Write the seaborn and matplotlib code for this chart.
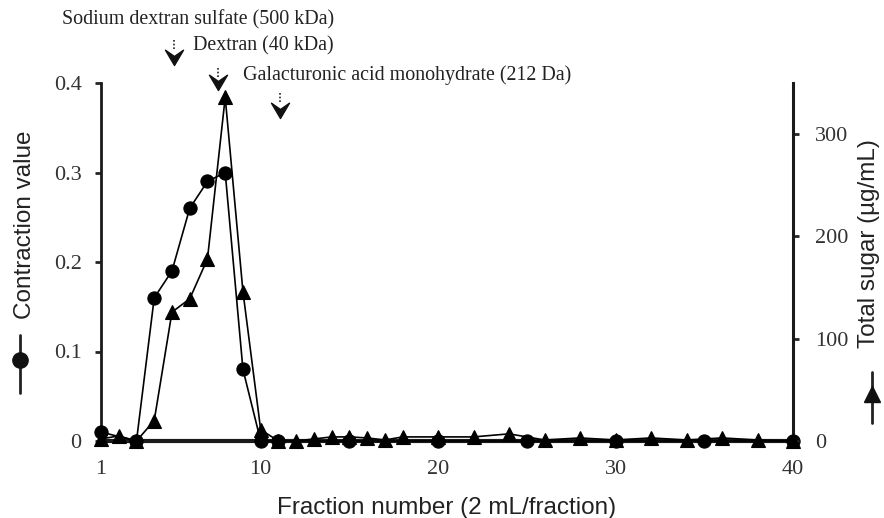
import numpy as np
import pandas as pd
import matplotlib
matplotlib.use("Agg")
import matplotlib.pyplot as plt
import matplotlib.transforms as mtransforms
from matplotlib.path import Path
from matplotlib.lines import Line2D
import seaborn as sns

# ---------------- data ----------------
circ_fraction = [1, 3, 4, 5, 6, 7, 8, 9, 10, 11, 15, 20, 25, 30, 35, 40]
contraction = [0.01, 0.0, 0.16, 0.19, 0.26, 0.29, 0.30, 0.08, 0.0, 0.0, 0.0, 0.0, 0.0, 0.0, 0.0, 0.0]

tri_fraction = [1, 2, 3, 4, 5, 6, 7, 8, 9, 10, 11, 12, 13, 14, 15, 16, 17, 18,
                20, 22, 24, 26, 28, 30, 32, 34, 36, 38, 40]
total_sugar = [2, 5, 0, 20, 126, 139, 178, 336, 146, 11, 0, 0, 2, 4, 4, 3, 1, 4,
               4, 4, 7, 1, 3, 1, 3, 1, 3, 1, 0]

x_ticks = [1, 10, 20, 30, 40]
left_ticks = [0, 0.1, 0.2, 0.3, 0.4]
left_tick_labels = ["0", "0.1", "0.2", "0.3", "0.4"]
right_ticks = [0, 100, 200, 300]

marker_names = ["Sodium dextran sulfate (500 kDa)", "Dextran (40 kDa)",
                "Galacturonic acid monohydrate (212 Da)"]
marker_fractions = [5.1, 7.6, 11.1]

# ---------------- style ----------------
sns.set_theme(style="white")
plt.rcParams["font.family"] = ["Liberation Serif", "DejaVu Serif"]
SANS = ["Liberation Sans", "DejaVu Sans"]
SERIF = ["Liberation Serif", "DejaVu Serif"]

W, H = 884, 518
fig = plt.figure(figsize=(W / 100, H / 100), dpi=100)
fig.patch.set_facecolor("white")
ax = fig.add_axes([101 / W, 1 - 441 / H, (793 - 101) / W, (441 - 83) / H])
ax2 = ax.twinx()

df_c = pd.DataFrame({"fraction": circ_fraction, "value": contraction})
df_t = pd.DataFrame({"fraction": tri_fraction, "value": total_sugar})

sns.lineplot(data=df_c, x="fraction", y="value", ax=ax, color="black",
             marker="o", markersize=9.5, linewidth=1.2, markeredgecolor="black",
             markeredgewidth=0.8, clip_on=False, zorder=5, estimator=None,
             legend=False)
sns.lineplot(data=df_t, x="fraction", y="value", ax=ax2, color="black",
             marker="^", markersize=10, linewidth=1.2, markeredgecolor="black",
             markeredgewidth=0.8, clip_on=False, zorder=5, estimator=None,
             legend=False)

ax.set_xlim(1, 40)
ax.set_ylim(0, 0.4)
ax2.set_ylim(0, 350)
ax.set_ylabel("")
ax2.set_ylabel("")
ax2.set_xlabel("")

ax.set_xticks(x_ticks)
ax.set_xticklabels([str(t) for t in x_ticks])
ax.set_yticks(left_ticks)
ax.set_yticklabels(left_tick_labels)
ax2.set_yticks(right_ticks)
ax2.set_yticklabels([str(t) for t in right_ticks])

for a in (ax, ax2):
    a.grid(False)
    a.set_facecolor("none")
    a.spines["top"].set_visible(False)
    for s in a.spines.values():
        s.set_color("#1a1a1a")

ax.spines["left"].set_linewidth(2.0)
ax.spines["bottom"].set_linewidth(3.0)
ax.spines["right"].set_visible(False)
ax2.spines["left"].set_visible(False)
ax2.spines["bottom"].set_visible(False)
ax2.spines["right"].set_linewidth(2.2)

ax.tick_params(axis="y", direction="out", length=4, width=2, pad=10,
               labelsize=16, labelcolor="#333333", left=True)
ax.tick_params(axis="x", length=0, pad=14, labelsize=16, labelcolor="#333333")
ax2.tick_params(axis="y", direction="out", length=4, width=2, pad=12,
                labelsize=16, labelcolor="#333333", right=True)
for lab in ax.get_xticklabels() + ax.get_yticklabels() + ax2.get_yticklabels():
    lab.set_family(SERIF)

ax.set_xlabel("Fraction number (2 mL/fraction)", fontsize=17.5, family=SANS,
              color="#222222")
ax.xaxis.set_label_coords(0.5, -0.156)


def fy(p):
    return 1 - p / H


# axis titles placed by their centres
fig.text(25 / W, fy(225), "Contraction value", fontsize=17.5, family=SANS,
         color="#222222", rotation=90, ha="center", va="center")
fig.text(869 / W, fy(244), "Total sugar (µg/mL)", fontsize=17.5, family=SANS,
         color="#222222", rotation=90, ha="center", va="center")

# legend keys beside the axis labels (figure pixel coords)
fig.add_artist(Line2D([20 / W, 20 / W], [fy(335), fy(393)], color="#222222", lw=2))
fig.add_artist(Line2D([20 / W], [fy(360)], marker="o", markersize=11,
                      color="#111111", linestyle="none"))
fig.add_artist(Line2D([872 / W, 872 / W], [fy(372), fy(423)], color="#222222", lw=2))
fig.add_artist(Line2D([872 / W], [fy(394)], marker="^", markersize=12,
                      color="#111111", linestyle="none"))

# marker annotations
trans = mtransforms.blended_transform_factory(ax.transData, fig.transFigure)
text_pos = [(62, 20), (193, 46), (243, 75)]
for name, (tx, ty) in zip(marker_names, text_pos):
    fig.text(tx / W, fy(ty), name, fontsize=14.4, family=SERIF, color="#222222",
             ha="left", va="center")

chevron = Path([(0, -1), (-1, 0.7), (0, 0.0), (1, 0.7), (0, -1)],
               [Path.MOVETO, Path.LINETO, Path.LINETO, Path.LINETO, Path.CLOSEPOLY])
arrow_y = [(40, 62), (68, 87), (93, 115)]
for xf, (ytop, ytip) in zip(marker_fractions, arrow_y):
    ax.add_artist(Line2D([xf, xf], [fy(ytop), fy(ytop + 10)], transform=trans,
                         color="#222222", lw=1.2, linestyle=(0, (1, 1.2)),
                         clip_on=False))
    ax.add_artist(Line2D([xf], [fy(ytip - 6)], transform=trans, marker=chevron,
                         markersize=13, color="#111111", linestyle="none",
                         clip_on=False))

fig.savefig("out.png", dpi=100, facecolor="white")
